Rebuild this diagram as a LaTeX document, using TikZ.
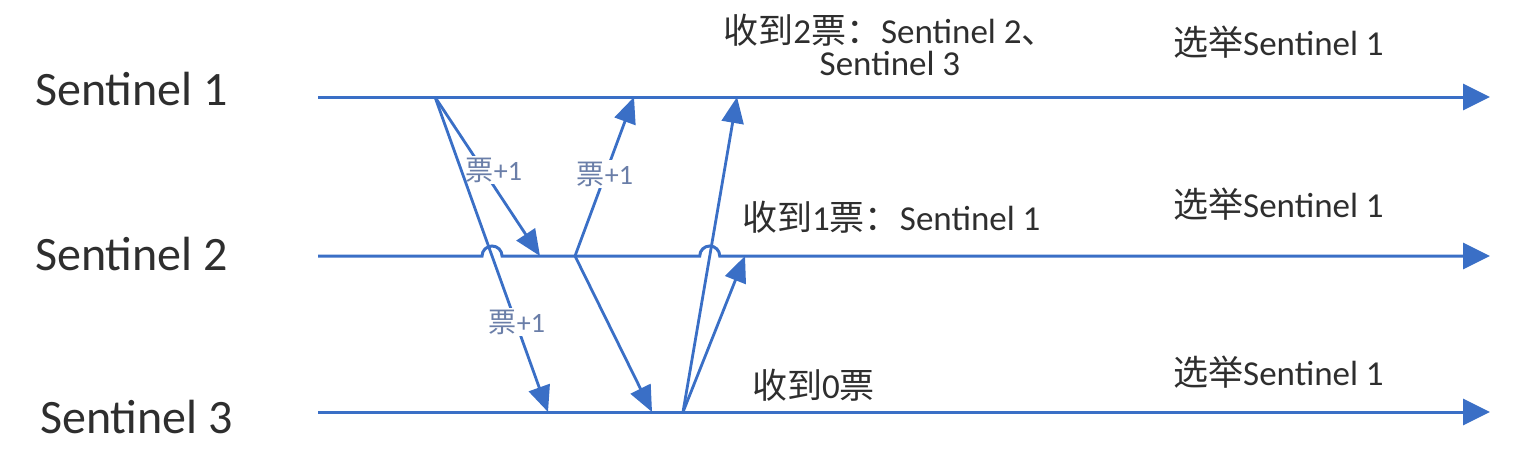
\documentclass[tikz,border=0pt]{standalone}
\usepackage{fontspec}
\setmainfont{Carlito}
\newfontfamily\cjk{Noto Sans CJK SC}
\newcommand{\zh}[1]{{\cjk #1}}
\usetikzlibrary{arrows.meta,calc}
\definecolor{senBlue}{HTML}{3A6FC6}
\definecolor{senText}{HTML}{2E2E2E}
\definecolor{voteText}{HTML}{6A7EA8}

\begin{document}
\begin{tikzpicture}[x=1pt,y=-1pt,
    timeline/.style={-{Triangle[length=27pt,width=26pt]},line width=3pt,senBlue},
    msg/.style={-{Triangle[length=26pt,width=22pt]},line width=2.8pt,senBlue},
    sname/.style={font=\fontsize{48}{48}\selectfont,text=senText,inner sep=0pt},
    note/.style={font=\fontsize{35}{32}\selectfont,text=senText,inner sep=0pt,align=center},
    vote/.style={font=\fontsize{28}{28}\selectfont,text=voteText,fill=white,inner sep=2pt},
]
\useasboundingbox (0,0) rectangle (1522,450);

% === SENTINELS ===
\node[sname,anchor=base west] (sen1) at (35,105) {Sentinel 1};
\node[sname,anchor=base west] (sen2) at (35,270) {Sentinel 2};
\node[sname,anchor=base west] (sen3) at (40,433) {Sentinel 3};

\coordinate (t1s) at (318,97);  \coordinate (t1e) at (1490,97);
\coordinate (t2s) at (318,256); \coordinate (t2e) at (1490,256);
\coordinate (t3s) at (318,412); \coordinate (t3e) at (1490,412);

% send / receive points
\coordinate (s1a) at (435,97);
\coordinate (s2a) at (540,256);
\coordinate (s3a) at (548,412);
\coordinate (s2b) at (575,256);
\coordinate (s1b) at (634,97);
\coordinate (s3b) at (652,412);
\coordinate (s3c) at (683,412);
\coordinate (s1c) at (737,97);
\coordinate (s2c) at (745,256);

% line jumps on Sentinel 2
\coordinate (hop1) at (intersection of s1a--s3a and t2s--t2e);
\coordinate (hop2) at (intersection of s3c--s1c and t2s--t2e);

% === TIMELINES ===
\draw[timeline] (t1s) -- (t1e);
\draw[timeline] (t2s) -- ($(hop1)+(-10,0)$) arc[start angle=180,end angle=0,radius=10pt]
    -- ($(hop2)+(-10,0)$) arc[start angle=180,end angle=0,radius=10pt] -- (t2e);
\draw[timeline] (t3s) -- (t3e);

% === VOTE REQUESTS ===
\draw[msg] (s1a) -- (s2a);
\node[vote] (vote1) at (494,170) {\zh{票}+1};
\draw[msg] (s1a) -- (s3a);
\node[vote] (vote2) at (517,322) {\zh{票}+1};
\draw[msg] (s2b) -- (s1b);
\node[vote] (vote3) at (605,174) {\zh{票}+1};
\draw[msg] (s2b) -- (s3b);
\draw[msg] (s3c) -- (s1c);
\draw[msg] (s3c) -- (s2c);

% === RESULTS ===
\node[note,anchor=base] (got1) at (890,75) {\zh{收到}2\zh{票：}Sentinel 2\zh{、}\\Sentinel 3};
\node[note,anchor=base west] (got2) at (742,230) {\zh{收到}1\zh{票：}Sentinel 1};
\node[note,anchor=base west] (got3) at (752,398) {\zh{收到}0\zh{票}};

\node[note,anchor=base west] (elect1) at (1173,55) {\zh{选举}Sentinel 1};
\node[note,anchor=base west] (elect2) at (1173,217) {\zh{选举}Sentinel 1};
\node[note,anchor=base west] (elect3) at (1173,385) {\zh{选举}Sentinel 1};

\end{tikzpicture}
\end{document}
